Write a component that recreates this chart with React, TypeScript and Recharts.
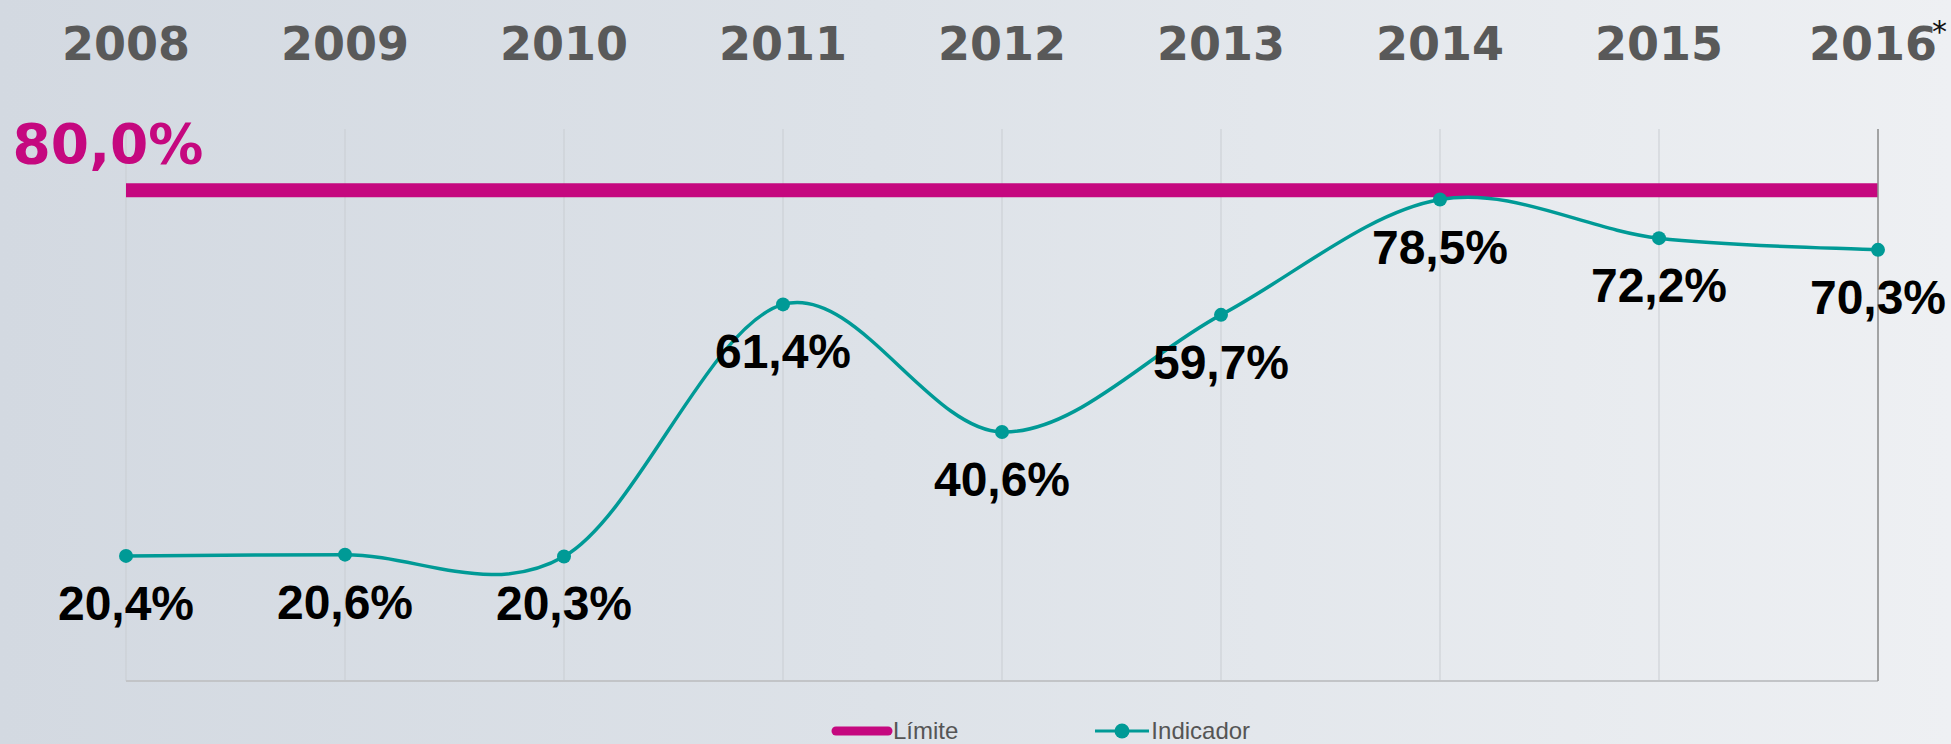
import React from "react";
import { LineChart, Line, XAxis, YAxis, CartesianGrid, Legend, LabelList } from "recharts";

const YEARS = ["2008", "2009", "2010", "2011", "2012", "2013", "2014", "2015", "2016"];
const INDICADOR = [20.4, 20.6, 20.3, 61.4, 40.6, 59.7, 78.5, 72.2, 70.3];
const LIMITE = [80, 80, 80, 80, 80, 80, 80, 80, 80];
const Y_TICKS = [0, 10, 20, 30, 40, 50, 60, 70, 80, 90];
const STARRED_YEAR = "2016";
const LEGEND_ORDER = ["Límite", "Indicador"];

const MAGENTA = "#C5087F";
const TEAL = "#009A96";
const AXIS_GRAY = "#8f8f8f";

const data = YEARS.map((year, i) => ({ year, limite: LIMITE[i], indicador: INDICADOR[i] }));

const fmtPct = (v: number) => `${v.toFixed(1).replace(".", ",")}%`;

// smooth line like the spreadsheet one (catmull-rom through the points)
function smoothCurve(context: any) {
  let pts: number[][] = [];
  return {
    areaStart() {},
    areaEnd() {},
    lineStart() { pts = []; },
    lineEnd() {
      const n = pts.length;
      if (!n) return;
      context.moveTo(pts[0][0], pts[0][1]);
      for (let i = 0; i < n - 1; i++) {
        const p0 = pts[i - 1] || pts[i];
        const p1 = pts[i];
        const p2 = pts[i + 1];
        const p3 = pts[i + 2] || p2;
        context.bezierCurveTo(
          p1[0] + (p2[0] - p0[0]) / 6, p1[1] + (p2[1] - p0[1]) / 6,
          p2[0] - (p3[0] - p1[0]) / 6, p2[1] - (p3[1] - p1[1]) / 6,
          p2[0], p2[1],
        );
      }
    },
    point(x: number, y: number) { pts.push([+x, +y]); },
  };
}

const YearTick = (props: any) => {
  const { x, y, payload } = props;
  const starred = payload.value === STARRED_YEAR;
  return (
    <text x={x} y={y - 69} textAnchor="middle" fill="#595959"
      style={{ fontFamily: "DejaVu Sans", fontWeight: 700, fontSize: 46 }}>
      {payload.value}
      {starred && (
        <tspan dx={-5} dy={-18} fill="#111" style={{ fontWeight: 400, fontSize: 30 }}>*</tspan>
      )}
    </text>
  );
};

const ValueLabel = (props: any) => {
  const { x, y, value } = props;
  return (
    <text x={x} y={y + 64} textAnchor="middle" fill="#000"
      style={{ fontFamily: "Liberation Sans, Arial", fontWeight: 700, fontSize: 48 }}>
      {fmtPct(value)}
    </text>
  );
};

const LimitLabel = (props: any) => {
  const { x, y, value, index } = props;
  if (index !== 0) return null;
  return (
    <text x={x - 18} y={y - 27} textAnchor="middle" fill={MAGENTA}
      style={{ fontFamily: "DejaVu Sans", fontWeight: 700, fontSize: 55 }}>
      {fmtPct(value)}
    </text>
  );
};

const LegendContent = (props: any) => {
  const items = [...(props.payload || [])].sort(
    (a: any, b: any) => LEGEND_ORDER.indexOf(a.value) - LEGEND_ORDER.indexOf(b.value),
  );
  return (
    <div style={{ display: "flex", alignItems: "center", height: 26, paddingLeft: 831 }}>
      {items.map((it: any, i: number) => (
        <div key={it.value} style={{ display: "flex", alignItems: "center", marginRight: i === 0 ? 137 : 0 }}>
          {it.value === "Límite" ? (
            <svg width={62} height={12}>
              <line x1={5} y1={6} x2={57} y2={6} stroke={it.color} strokeWidth={9} strokeLinecap="round" />
            </svg>
          ) : (
            <svg width={56} height={18}>
              <line x1={0} y1={9} x2={54} y2={9} stroke={it.color} strokeWidth={3} />
              <circle cx={27} cy={9} r={7.5} fill={it.color} />
            </svg>
          )}
          <span style={{ fontFamily: "Liberation Sans, Arial", fontSize: 24, color: "#555", lineHeight: "26px" }}>
            {it.value}
          </span>
        </div>
      ))}
    </div>
  );
};

export default function App() {
  return (
    <div style={{
      position: "absolute", left: 0, top: 0, width: 1951, height: 744, overflow: "hidden",
      background: "linear-gradient(90deg, #d3d9e1 0%, #dde2e8 45%, #eef0f3 100%)",
    }}>
      <LineChart width={1951} height={744} data={data} margin={{ top: 0, right: 53, bottom: 62, left: 126 }}>
        <CartesianGrid xAxisId="top" horizontal={false} stroke="#c9cdd2" strokeWidth={1} />
        <XAxis xAxisId="top" orientation="top" dataKey="year" height={129} tickSize={0} tickMargin={0}
          tickLine={false} axisLine={false} interval={0} tick={<YearTick />} />
        <XAxis xAxisId="bottom" dataKey="year" height={1} tick={false} tickLine={false}
          axisLine={{ stroke: "#c2c4c7", strokeWidth: 2 }} />
        <YAxis orientation="right" type="number" domain={[0, 90]} ticks={Y_TICKS} tick={false} tickSize={8}
          width={20} axisLine={{ stroke: AXIS_GRAY, strokeWidth: 1.5 }} tickLine={{ stroke: AXIS_GRAY, strokeWidth: 1.5 }} />
        <Legend layout="horizontal" verticalAlign="middle" align="center" content={<LegendContent />}
          wrapperStyle={{ top: 718, left: 0, width: 1951, height: 26 }} />
        <Line xAxisId="top" type="linear" dataKey="limite" name="Límite" stroke={MAGENTA} strokeWidth={14}
          dot={false} activeDot={false} isAnimationActive={false}>
          <LabelList dataKey="limite" content={<LimitLabel />} />
        </Line>
        <Line xAxisId="top" type={smoothCurve as any} dataKey="indicador" name="Indicador" stroke={TEAL}
          strokeWidth={3.5} dot={{ r: 7, fill: TEAL, stroke: TEAL, strokeWidth: 0 }} activeDot={false}
          isAnimationActive={false}>
          <LabelList dataKey="indicador" content={<ValueLabel />} />
        </Line>
      </LineChart>
    </div>
  );
}
